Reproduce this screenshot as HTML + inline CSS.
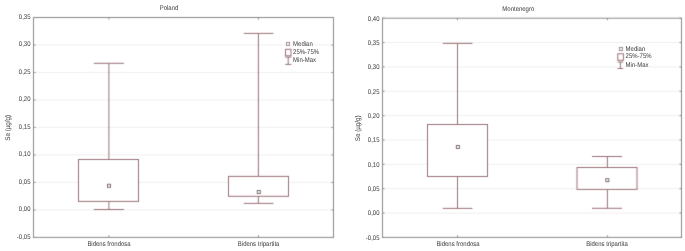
<!DOCTYPE html>
<html><head><meta charset="utf-8"><style>
html,body{margin:0;padding:0;background:#fff;width:685px;height:251px;overflow:hidden}
svg{display:block}
text{font-family:"Liberation Sans", sans-serif;fill:#444444;stroke:#444444;stroke-width:0.3;text-rendering:geometricPrecision}
</style></head><body>
<svg width="685" height="251" viewBox="0 0 685 251">
<defs><filter id="b" x="0" y="0" width="1" height="1" color-interpolation-filters="sRGB"><feConvolveMatrix order="3" kernelMatrix="0.01440 0.09120 0.01440 0.09120 0.57760 0.09120 0.01440 0.09120 0.01440" divisor="1" edgeMode="duplicate" preserveAlpha="true"/></filter><filter id="t" x="0" y="0" width="1" height="1" color-interpolation-filters="sRGB"><feConvolveMatrix order="3" kernelMatrix="0.00000 0.00000 0.00000 0.00000 1.00000 0.00000 0.00000 0.00000 0.00000" divisor="1" edgeMode="none" preserveAlpha="false"/></filter></defs>
<rect width="685" height="251" fill="#fff"/>
<g filter="url(#b)">
<rect width="685" height="251" fill="#fff"/>
<line x1="33.50" y1="44.99" x2="333.50" y2="44.99" stroke="#eeeeee" stroke-width="1"/>
<line x1="33.50" y1="72.47" x2="333.50" y2="72.47" stroke="#eeeeee" stroke-width="1"/>
<line x1="33.50" y1="99.96" x2="333.50" y2="99.96" stroke="#eeeeee" stroke-width="1"/>
<line x1="33.50" y1="127.45" x2="333.50" y2="127.45" stroke="#eeeeee" stroke-width="1"/>
<line x1="33.50" y1="154.94" x2="333.50" y2="154.94" stroke="#eeeeee" stroke-width="1"/>
<line x1="33.50" y1="182.43" x2="333.50" y2="182.43" stroke="#eeeeee" stroke-width="1"/>
<line x1="33.50" y1="209.91" x2="333.50" y2="209.91" stroke="#eeeeee" stroke-width="1"/>
<rect x="285.00" y="40.30" width="28" height="7" fill="#fff"/>
<rect x="285.00" y="47.30" width="34" height="9" fill="#fff"/>
<rect x="285.00" y="56.30" width="31" height="9" fill="#fff"/>
<line x1="33.50" y1="17.50" x2="35.50" y2="17.50" stroke="#8a8a8a" stroke-width="1"/>
<line x1="333.50" y1="17.50" x2="331.50" y2="17.50" stroke="#8a8a8a" stroke-width="1"/>
<line x1="33.50" y1="44.99" x2="35.50" y2="44.99" stroke="#8a8a8a" stroke-width="1"/>
<line x1="333.50" y1="44.99" x2="331.50" y2="44.99" stroke="#8a8a8a" stroke-width="1"/>
<line x1="33.50" y1="72.47" x2="35.50" y2="72.47" stroke="#8a8a8a" stroke-width="1"/>
<line x1="333.50" y1="72.47" x2="331.50" y2="72.47" stroke="#8a8a8a" stroke-width="1"/>
<line x1="33.50" y1="99.96" x2="35.50" y2="99.96" stroke="#8a8a8a" stroke-width="1"/>
<line x1="333.50" y1="99.96" x2="331.50" y2="99.96" stroke="#8a8a8a" stroke-width="1"/>
<line x1="33.50" y1="127.45" x2="35.50" y2="127.45" stroke="#8a8a8a" stroke-width="1"/>
<line x1="333.50" y1="127.45" x2="331.50" y2="127.45" stroke="#8a8a8a" stroke-width="1"/>
<line x1="33.50" y1="154.94" x2="35.50" y2="154.94" stroke="#8a8a8a" stroke-width="1"/>
<line x1="333.50" y1="154.94" x2="331.50" y2="154.94" stroke="#8a8a8a" stroke-width="1"/>
<line x1="33.50" y1="182.43" x2="35.50" y2="182.43" stroke="#8a8a8a" stroke-width="1"/>
<line x1="333.50" y1="182.43" x2="331.50" y2="182.43" stroke="#8a8a8a" stroke-width="1"/>
<line x1="33.50" y1="209.91" x2="35.50" y2="209.91" stroke="#8a8a8a" stroke-width="1"/>
<line x1="333.50" y1="209.91" x2="331.50" y2="209.91" stroke="#8a8a8a" stroke-width="1"/>
<line x1="33.50" y1="237.40" x2="35.50" y2="237.40" stroke="#8a8a8a" stroke-width="1"/>
<line x1="333.50" y1="237.40" x2="331.50" y2="237.40" stroke="#8a8a8a" stroke-width="1"/>
<rect x="33.50" y="17.50" width="300.00" height="219.90" fill="none" stroke="#8a8a8a" stroke-width="1"/>
<line x1="108.90" y1="63.30" x2="108.90" y2="159.50" stroke="#997076" stroke-width="1"/>
<line x1="108.90" y1="201.40" x2="108.90" y2="209.50" stroke="#997076" stroke-width="1"/>
<line x1="93.80" y1="63.30" x2="124.00" y2="63.30" stroke="#997076" stroke-width="1"/>
<line x1="93.80" y1="209.50" x2="124.00" y2="209.50" stroke="#997076" stroke-width="1"/>
<rect x="78.50" y="159.50" width="60.00" height="41.90" fill="#fff" stroke="#997076" stroke-width="1"/>
<rect x="107.50" y="184.30" width="3.00" height="3.00" fill="#fff" stroke="#7e6a6e" stroke-width="1"/>
<line x1="108.90" y1="237.40" x2="108.90" y2="235.40" stroke="#8a8a8a" stroke-width="1"/>
<line x1="108.90" y1="17.50" x2="108.90" y2="19.50" stroke="#8a8a8a" stroke-width="1"/>
<line x1="258.40" y1="33.40" x2="258.40" y2="176.40" stroke="#997076" stroke-width="1"/>
<line x1="258.40" y1="196.30" x2="258.40" y2="203.40" stroke="#997076" stroke-width="1"/>
<line x1="243.80" y1="33.40" x2="273.40" y2="33.40" stroke="#997076" stroke-width="1"/>
<line x1="243.80" y1="203.40" x2="273.40" y2="203.40" stroke="#997076" stroke-width="1"/>
<rect x="228.50" y="176.40" width="60.00" height="19.90" fill="#fff" stroke="#997076" stroke-width="1"/>
<rect x="257.30" y="190.50" width="3.00" height="3.00" fill="#fff" stroke="#7e6a6e" stroke-width="1"/>
<line x1="258.40" y1="237.40" x2="258.40" y2="235.40" stroke="#8a8a8a" stroke-width="1"/>
<line x1="258.40" y1="17.50" x2="258.40" y2="19.50" stroke="#8a8a8a" stroke-width="1"/>
<rect x="286.50" y="42.50" width="3.00" height="3.00" fill="#fff" stroke="#a08890" stroke-width="1"/>
<rect x="285.50" y="49.30" width="5.50" height="6.50" fill="none" stroke="#997076" stroke-width="1"/>
<line x1="285.20" y1="57.10" x2="291.40" y2="57.10" stroke="#997076" stroke-width="1"/>
<line x1="288.20" y1="57.10" x2="288.20" y2="64.40" stroke="#997076" stroke-width="1"/>
<line x1="285.20" y1="64.40" x2="291.40" y2="64.40" stroke="#997076" stroke-width="1"/>
<line x1="382.50" y1="42.56" x2="681.50" y2="42.56" stroke="#eeeeee" stroke-width="1"/>
<line x1="382.50" y1="66.91" x2="681.50" y2="66.91" stroke="#eeeeee" stroke-width="1"/>
<line x1="382.50" y1="91.27" x2="681.50" y2="91.27" stroke="#eeeeee" stroke-width="1"/>
<line x1="382.50" y1="115.62" x2="681.50" y2="115.62" stroke="#eeeeee" stroke-width="1"/>
<line x1="382.50" y1="139.98" x2="681.50" y2="139.98" stroke="#eeeeee" stroke-width="1"/>
<line x1="382.50" y1="164.33" x2="681.50" y2="164.33" stroke="#eeeeee" stroke-width="1"/>
<line x1="382.50" y1="188.69" x2="681.50" y2="188.69" stroke="#eeeeee" stroke-width="1"/>
<line x1="382.50" y1="213.04" x2="681.50" y2="213.04" stroke="#eeeeee" stroke-width="1"/>
<rect x="618.00" y="44.90" width="28" height="7" fill="#fff"/>
<rect x="618.00" y="51.90" width="34" height="9" fill="#fff"/>
<rect x="618.00" y="60.90" width="31" height="9" fill="#fff"/>
<line x1="382.50" y1="18.20" x2="384.50" y2="18.20" stroke="#8a8a8a" stroke-width="1"/>
<line x1="681.50" y1="18.20" x2="679.50" y2="18.20" stroke="#8a8a8a" stroke-width="1"/>
<line x1="382.50" y1="42.56" x2="384.50" y2="42.56" stroke="#8a8a8a" stroke-width="1"/>
<line x1="681.50" y1="42.56" x2="679.50" y2="42.56" stroke="#8a8a8a" stroke-width="1"/>
<line x1="382.50" y1="66.91" x2="384.50" y2="66.91" stroke="#8a8a8a" stroke-width="1"/>
<line x1="681.50" y1="66.91" x2="679.50" y2="66.91" stroke="#8a8a8a" stroke-width="1"/>
<line x1="382.50" y1="91.27" x2="384.50" y2="91.27" stroke="#8a8a8a" stroke-width="1"/>
<line x1="681.50" y1="91.27" x2="679.50" y2="91.27" stroke="#8a8a8a" stroke-width="1"/>
<line x1="382.50" y1="115.62" x2="384.50" y2="115.62" stroke="#8a8a8a" stroke-width="1"/>
<line x1="681.50" y1="115.62" x2="679.50" y2="115.62" stroke="#8a8a8a" stroke-width="1"/>
<line x1="382.50" y1="139.98" x2="384.50" y2="139.98" stroke="#8a8a8a" stroke-width="1"/>
<line x1="681.50" y1="139.98" x2="679.50" y2="139.98" stroke="#8a8a8a" stroke-width="1"/>
<line x1="382.50" y1="164.33" x2="384.50" y2="164.33" stroke="#8a8a8a" stroke-width="1"/>
<line x1="681.50" y1="164.33" x2="679.50" y2="164.33" stroke="#8a8a8a" stroke-width="1"/>
<line x1="382.50" y1="188.69" x2="384.50" y2="188.69" stroke="#8a8a8a" stroke-width="1"/>
<line x1="681.50" y1="188.69" x2="679.50" y2="188.69" stroke="#8a8a8a" stroke-width="1"/>
<line x1="382.50" y1="213.04" x2="384.50" y2="213.04" stroke="#8a8a8a" stroke-width="1"/>
<line x1="681.50" y1="213.04" x2="679.50" y2="213.04" stroke="#8a8a8a" stroke-width="1"/>
<line x1="382.50" y1="237.40" x2="384.50" y2="237.40" stroke="#8a8a8a" stroke-width="1"/>
<line x1="681.50" y1="237.40" x2="679.50" y2="237.40" stroke="#8a8a8a" stroke-width="1"/>
<rect x="382.50" y="18.20" width="299.00" height="219.20" fill="none" stroke="#8a8a8a" stroke-width="1"/>
<line x1="457.50" y1="43.40" x2="457.50" y2="124.50" stroke="#997076" stroke-width="1"/>
<line x1="457.50" y1="176.50" x2="457.50" y2="208.40" stroke="#997076" stroke-width="1"/>
<line x1="442.80" y1="43.40" x2="472.40" y2="43.40" stroke="#997076" stroke-width="1"/>
<line x1="442.80" y1="208.40" x2="472.40" y2="208.40" stroke="#997076" stroke-width="1"/>
<rect x="427.50" y="124.50" width="60.00" height="52.00" fill="#fff" stroke="#997076" stroke-width="1"/>
<rect x="456.40" y="145.50" width="3.00" height="3.00" fill="#fff" stroke="#7e6a6e" stroke-width="1"/>
<line x1="457.50" y1="237.40" x2="457.50" y2="235.40" stroke="#8a8a8a" stroke-width="1"/>
<line x1="457.50" y1="18.20" x2="457.50" y2="20.20" stroke="#8a8a8a" stroke-width="1"/>
<line x1="607.40" y1="156.50" x2="607.40" y2="167.50" stroke="#997076" stroke-width="1"/>
<line x1="607.40" y1="189.40" x2="607.40" y2="208.30" stroke="#997076" stroke-width="1"/>
<line x1="592.00" y1="156.50" x2="622.00" y2="156.50" stroke="#997076" stroke-width="1"/>
<line x1="592.00" y1="208.30" x2="622.00" y2="208.30" stroke="#997076" stroke-width="1"/>
<rect x="577.00" y="167.50" width="60.00" height="21.90" fill="#fff" stroke="#997076" stroke-width="1"/>
<rect x="605.80" y="178.70" width="3.00" height="3.00" fill="#fff" stroke="#7e6a6e" stroke-width="1"/>
<line x1="607.40" y1="237.40" x2="607.40" y2="235.40" stroke="#8a8a8a" stroke-width="1"/>
<line x1="607.40" y1="18.20" x2="607.40" y2="20.20" stroke="#8a8a8a" stroke-width="1"/>
<rect x="619.40" y="47.50" width="3.00" height="3.00" fill="#fff" stroke="#a08890" stroke-width="1"/>
<rect x="617.80" y="53.80" width="5.60" height="6.50" fill="none" stroke="#997076" stroke-width="1"/>
<line x1="617.60" y1="62.10" x2="623.20" y2="62.10" stroke="#997076" stroke-width="1"/>
<line x1="620.40" y1="62.10" x2="620.40" y2="68.50" stroke="#997076" stroke-width="1"/>
<line x1="617.60" y1="68.50" x2="623.20" y2="68.50" stroke="#997076" stroke-width="1"/>
</g>
<g filter="url(#t)">
<text transform="translate(30.50 19.00) scale(0.0880 0.1000)" text-anchor="end" font-size="68.0">0,35</text>
<text transform="translate(30.50 46.49) scale(0.0880 0.1000)" text-anchor="end" font-size="68.0">0,30</text>
<text transform="translate(30.50 73.97) scale(0.0880 0.1000)" text-anchor="end" font-size="68.0">0,25</text>
<text transform="translate(30.50 101.46) scale(0.0880 0.1000)" text-anchor="end" font-size="68.0">0,20</text>
<text transform="translate(30.50 128.95) scale(0.0880 0.1000)" text-anchor="end" font-size="68.0">0,15</text>
<text transform="translate(30.50 156.44) scale(0.0880 0.1000)" text-anchor="end" font-size="68.0">0,10</text>
<text transform="translate(30.50 183.93) scale(0.0880 0.1000)" text-anchor="end" font-size="68.0">0,05</text>
<text transform="translate(30.50 211.41) scale(0.0880 0.1000)" text-anchor="end" font-size="68.0">0,00</text>
<text transform="translate(30.50 238.90) scale(0.0880 0.1000)" text-anchor="end" font-size="68.0">-0,05</text>
<text transform="translate(109.00 245.80) scale(0.0880 0.1000)" text-anchor="middle" font-size="68.0">Bidens frondosa</text>
<text transform="translate(258.60 245.80) scale(0.0880 0.1000)" text-anchor="middle" font-size="68.0">Bidens tripartita</text>
<text transform="translate(293.10 45.60) scale(0.0880 0.1000)" text-anchor="start" font-size="68.0">Median</text>
<text transform="translate(293.10 53.80) scale(0.0880 0.1000)" text-anchor="start" font-size="68.0">25%-75%</text>
<text transform="translate(293.10 62.10) scale(0.0880 0.1000)" text-anchor="start" font-size="68.0">Min-Max</text>
<text transform="translate(169.00 9.90) scale(0.0880 0.1000)" text-anchor="middle" font-size="68.0">Poland</text>
<text transform="translate(9.9 127.8) rotate(-90) scale(0.0900 0.1)" text-anchor="middle" font-size="70.0">Se (µg/g)</text>
<text transform="translate(379.50 20.50) scale(0.0880 0.1000)" text-anchor="end" font-size="68.0">0,40</text>
<text transform="translate(379.50 44.86) scale(0.0880 0.1000)" text-anchor="end" font-size="68.0">0,35</text>
<text transform="translate(379.50 69.21) scale(0.0880 0.1000)" text-anchor="end" font-size="68.0">0,30</text>
<text transform="translate(379.50 93.57) scale(0.0880 0.1000)" text-anchor="end" font-size="68.0">0,25</text>
<text transform="translate(379.50 117.92) scale(0.0880 0.1000)" text-anchor="end" font-size="68.0">0,20</text>
<text transform="translate(379.50 142.28) scale(0.0880 0.1000)" text-anchor="end" font-size="68.0">0,15</text>
<text transform="translate(379.50 166.63) scale(0.0880 0.1000)" text-anchor="end" font-size="68.0">0,10</text>
<text transform="translate(379.50 190.99) scale(0.0880 0.1000)" text-anchor="end" font-size="68.0">0,05</text>
<text transform="translate(379.50 215.34) scale(0.0880 0.1000)" text-anchor="end" font-size="68.0">0,00</text>
<text transform="translate(379.50 239.70) scale(0.0880 0.1000)" text-anchor="end" font-size="68.0">-0,05</text>
<text transform="translate(458.00 246.00) scale(0.0880 0.1000)" text-anchor="middle" font-size="68.0">Bidens frondosa</text>
<text transform="translate(607.00 246.00) scale(0.0880 0.1000)" text-anchor="middle" font-size="68.0">Bidens tripartita</text>
<text transform="translate(625.60 50.60) scale(0.0880 0.1000)" text-anchor="start" font-size="68.0">Median</text>
<text transform="translate(625.60 58.30) scale(0.0880 0.1000)" text-anchor="start" font-size="68.0">25%-75%</text>
<text transform="translate(625.60 67.10) scale(0.0880 0.1000)" text-anchor="start" font-size="68.0">Min-Max</text>
<text transform="translate(518.30 10.60) scale(0.0880 0.1000)" text-anchor="middle" font-size="68.0">Montenegro</text>
<text transform="translate(360.3 128.3) rotate(-90) scale(0.0900 0.1)" text-anchor="middle" font-size="70.0">Se (µg/g)</text>
</g>
</svg>
</body></html>
